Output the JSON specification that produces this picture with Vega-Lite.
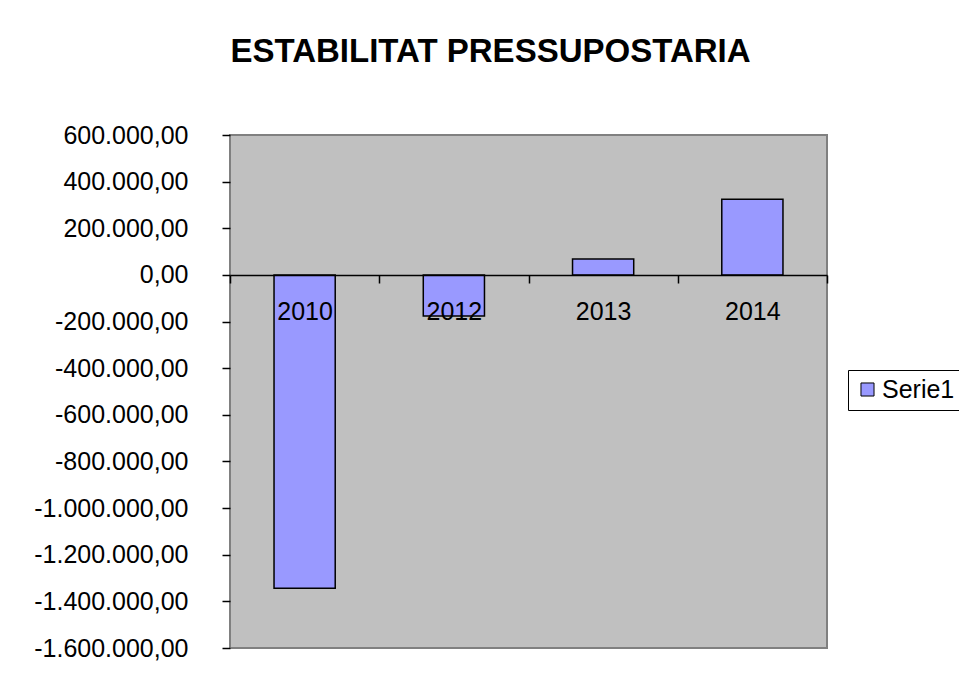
{
  "$schema": "https://vega.github.io/schema/vega-lite/v6.json",
  "autosize": "none",
  "width": 597,
  "height": 513,
  "padding": {"left": 230, "top": 135, "right": 132, "bottom": 38},
  "background": "white",
  "config": {
    "locale": {"number": {"decimal": ",", "thousands": ".", "grouping": [3], "currency": ["", " €"], "minus": "-"}},
    "font": "Liberation Sans",
    "view": {"fill": "#C0C0C0", "stroke": "#808080", "strokeWidth": 2}
  },
  "title": {
    "text": "ESTABILITAT PRESSUPOSTARIA",
    "fontSize": 33,
    "fontWeight": "bold",
    "font": "Liberation Sans",
    "color": "black",
    "anchor": "middle",
    "frame": "group",
    "dx": -38,
    "offset": 54
  },
  "data": {
    "values": [
      {"year": "2010", "serie": "Serie1", "value": -1344000},
      {"year": "2012", "serie": "Serie1", "value": -176000},
      {"year": "2013", "serie": "Serie1", "value": 68000},
      {"year": "2014", "serie": "Serie1", "value": 325000}
    ]
  },
  "mark": {"type": "bar", "width": {"band": 0.41}, "stroke": "black", "strokeWidth": 1.5},
  "encoding": {
    "x": {
      "field": "year",
      "type": "nominal",
      "sort": null,
      "scale": {"paddingInner": 0, "paddingOuter": 0},
      "axis": {
        "title": null,
        "orient": "bottom",
        "offset": -373,
        "zindex": 1,
        "labelAngle": 0,
        "labelFontSize": 25,
        "labelColor": "black",
        "labelPadding": 16,
        "tickBand": "extent",
        "tickSize": 8,
        "tickColor": "black",
        "tickWidth": 1.5,
        "domainColor": "black",
        "domainWidth": 1.5
      }
    },
    "y": {
      "field": "value",
      "type": "quantitative",
      "scale": {"domain": [-1600000, 600000], "nice": false, "zero": false},
      "axis": {
        "title": null,
        "values": [-1600000, -1400000, -1200000, -1000000, -800000, -600000, -400000, -200000, 0, 200000, 400000, 600000],
        "format": ",.2f",
        "grid": false,
        "domain": false,
        "labelFontSize": 25,
        "labelColor": "black",
        "labelPadding": 34,
        "tickSize": 8,
        "tickColor": "black",
        "tickWidth": 1.5
      }
    },
    "color": {
      "field": "serie",
      "type": "nominal",
      "scale": {"range": ["#9999FF"]},
      "legend": {
        "title": null,
        "orient": "none",
        "legendX": 618,
        "legendY": 235,
        "symbolType": "square",
        "symbolSize": 170,
        "symbolStrokeColor": "black",
        "symbolStrokeWidth": 1,
        "labelFontSize": 25,
        "labelColor": "black",
        "labelOffset": 2,
        "strokeColor": "black",
        "fillColor": "white",
        "padding": 7
      }
    }
  }
}
